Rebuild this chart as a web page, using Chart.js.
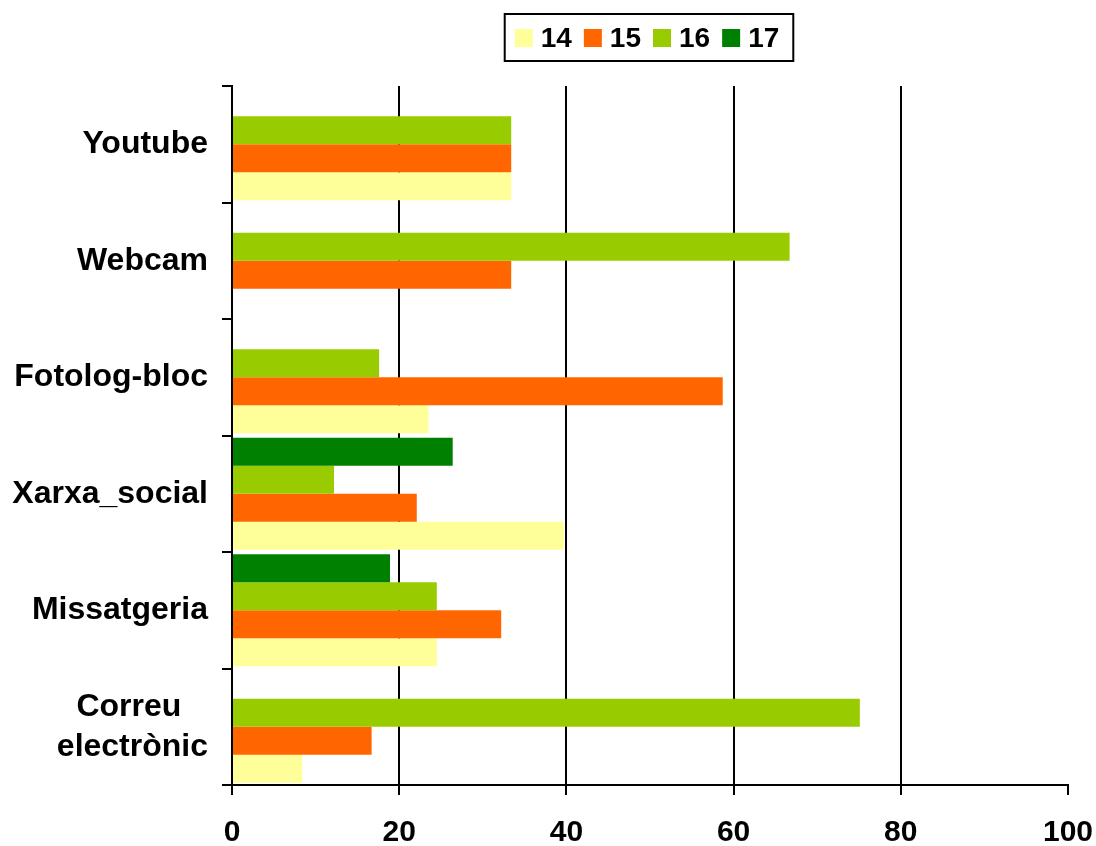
<!DOCTYPE html>
<html>
<head>
<meta charset="utf-8">
<title>Usos d'Internet per edat</title>
<script src="https://cdn.jsdelivr.net/npm/chart.js@4.4.1/dist/chart.umd.min.js"></script>
<style>
    html, body { margin: 0; padding: 0; background: #ffffff; }
    #wrap { width: 1096px; height: 846px; position: relative; }
</style>
</head>
<body>
<div id="wrap"><canvas id="usosChart"></canvas></div>
<script>
// Categories, top to bottom
var categories = ['Youtube', 'Webcam', 'Fotolog-bloc', 'Xarxa_social', 'Missatgeria', ['Correu\u00a0\u00a0\u00a0', 'electrònic']];

// Series (age 14..17), values in %
var seriesNames = ['14', '15', '16', '17'];
var values14 = [33.4, 0, 23.5, 39.7, 24.5, 8.4];
var values15 = [33.4, 33.4, 58.7, 22.1, 32.2, 16.7];
var values16 = [33.4, 66.7, 17.6, 12.2, 24.5, 75.1];
var values17 = [0, 0, 0, 26.4, 18.9, 0];
var seriesColors = ['#FFFF99', '#FF6600', '#99CC00', '#008000'];

var xTicks = [0, 20, 40, 60, 80, 100];

var FONT = 'Liberation Sans, Arial, sans-serif';

// Bars inside a category go top -> bottom in dataset order, so 17 first
var seriesValues = [values14, values15, values16, values17];
var datasets = [];
for (var i = seriesNames.length - 1; i >= 0; i--) {
    datasets.push({
        label: seriesNames[i],
        data: seriesValues[i],
        backgroundColor: seriesColors[i],
        borderWidth: 0,
        categoryPercentage: 0.96,
        barPercentage: 1.0
    });
}

// Boxed legend drawn above the plot, centred on the chart area
var boxedLegend = {
    id: 'boxedLegend',
    afterDraw: function (chart) {
        var ctx = chart.ctx;
        var area = chart.chartArea;
        var items = chart.data.datasets.slice().reverse();
        var box = 18, gap = 8, itemGap = 12;
        ctx.save();
        ctx.font = 'bold 28px ' + FONT;
        var total = 0;
        var widths = items.map(function (d) { return ctx.measureText(d.label).width; });
        widths.forEach(function (w, k) { total += box + gap + w + (k > 0 ? itemGap : 0); });
        var x = (area.left + area.right) / 2 - total / 2 - 3;
        var cy = 38;
        ctx.lineWidth = 2;
        ctx.strokeStyle = '#000';
        ctx.strokeRect(x - 10, 14, total + 24, 47);
        ctx.textBaseline = 'middle';
        ctx.textAlign = 'left';
        items.forEach(function (d, k) {
            ctx.fillStyle = d.backgroundColor;
            ctx.fillRect(x, cy - box / 2, box, box);
            ctx.fillStyle = '#000';
            ctx.fillText(d.label, x + box + gap, cy + 1);
            x += box + gap + widths[k] + itemGap;
        });
        ctx.restore();
    }
};

new Chart(document.getElementById('usosChart').getContext('2d'), {
    type: 'bar',
    data: {
        labels: categories,
        datasets: datasets
    },
    options: {
        indexAxis: 'y',
        responsive: true,
        maintainAspectRatio: false,
        animation: false,
        devicePixelRatio: 1,
        layout: { padding: { top: 86, right: 0, left: 0, bottom: 0 } },
        plugins: {
            legend: { display: false },
            tooltip: { enabled: false }
        },
        scales: {
            x: {
                min: 0,
                max: 100,
                afterBuildTicks: function (scale) {
                    scale.ticks = xTicks.map(function (v) { return { value: v }; });
                },
                afterFit: function (scale) {
                    scale.height = 61;
                    scale.paddingRight = 28;
                    scale.paddingLeft = 0;
                },
                border: { display: true, color: '#000', width: 2 },
                grid: {
                    color: function (c) {
                        return (c.tick && (c.tick.value === 0 || c.tick.value === 100)) ? 'rgba(0,0,0,0)' : '#000';
                    },
                    tickColor: '#000',
                    lineWidth: 2,
                    tickLength: 10
                },
                ticks: {
                    color: '#000',
                    padding: 20,
                    maxRotation: 0,
                    font: { family: FONT, size: 30, weight: 'bold' }
                }
            },
            y: {
                afterFit: function (scale) { scale.width = 232; },
                border: { display: true, color: '#000', width: 2 },
                grid: {
                    offset: true,
                    drawOnChartArea: false,
                    color: '#000',
                    tickColor: '#000',
                    lineWidth: 2,
                    tickLength: 10
                },
                ticks: {
                    color: '#000',
                    padding: 14,
                    font: { family: FONT, size: 32, weight: 'bold', lineHeight: 1.25 }
                }
            }
        }
    },
    plugins: [boxedLegend]
});
</script>
</body>
</html>
